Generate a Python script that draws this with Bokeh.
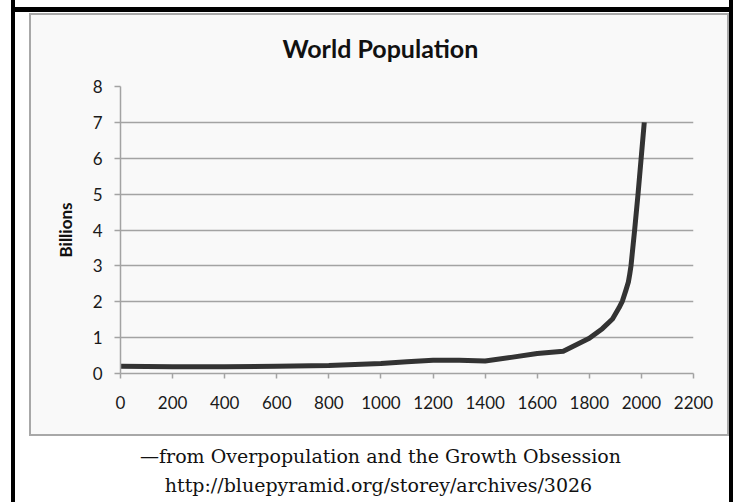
from bokeh.plotting import figure
from bokeh.models import Range1d, Label, FixedTicker
from bokeh.layouts import column
from bokeh.embed import file_html
from bokeh.resources import INLINE

# ---- data ----
years = [0, 200, 400, 600, 800, 1000, 1100, 1200, 1300, 1400, 1500, 1600,
         1700, 1750, 1800, 1850, 1889, 1914, 1927, 1940, 1950, 1955, 1960,
         1974, 1987, 1999, 2011]
billions = [0.2, 0.19, 0.19, 0.2, 0.22, 0.28, 0.33, 0.37, 0.37, 0.35, 0.45, 0.56,
            0.62, 0.8, 0.98, 1.25, 1.52, 1.83, 2.02, 2.31, 2.55, 2.76, 3.0,
            4.0, 5.0, 6.0, 7.0]
x_ticks = [0, 200, 400, 600, 800, 1000, 1200, 1400, 1600, 1800, 2000, 2200]
y_ticks = [0, 1, 2, 3, 4, 5, 6, 7, 8]
title_text = "World Population"
y_label = "Billions"
caption_1 = "\u2014from Overpopulation and the Growth Obsession"
caption_2 = "http://bluepyramid.org/storey/archives/3026"

CHART_BG = "#f9f9f9"
GRID = "#a3a3a3"
FONT = "Lato"

# ---- chart ----
p = figure(width=735, height=437, output_backend="svg", toolbar_location=None,
           x_range=Range1d(0, 2200), y_range=Range1d(0, 8),
           min_border_left=120, min_border_right=42,
           min_border_top=86, min_border_bottom=64,
           background_fill_color=CHART_BG, border_fill_color=None,
           title=title_text)
p.outline_line_color = None

p.title.align = "left"
p.title.offset = 162
p.title.standoff = 48
p.title.vertical_align = "bottom"
p.title.text_font = FONT
p.title.text_font_style = "bold"
p.title.text_font_size = "25px"
p.title.text_color = "#111111"

p.xgrid.visible = False
p.ygrid.ticker = FixedTicker(ticks=y_ticks)
p.ygrid.grid_line_color = GRID
p.ygrid.grid_line_width = 1.5

for ax in (p.xaxis, p.yaxis):
    ax.axis_line_color = GRID
    ax.axis_line_width = 1.5
    ax.major_tick_line_color = GRID
    ax.major_tick_line_width = 1.5
    ax.minor_tick_line_color = None
    ax.major_tick_in = 0
    ax.major_label_text_font = FONT
    ax.major_label_text_font_size = "17px"
    ax.major_label_text_color = "#1a1a1a"

p.xaxis.ticker = FixedTicker(ticks=x_ticks)
p.xaxis.major_tick_out = 5
p.xaxis.major_label_standoff = 17

p.yaxis.ticker = FixedTicker(ticks=y_ticks)
p.yaxis.major_tick_out = 6
p.yaxis.major_label_standoff = 12
p.yaxis.axis_label = y_label
p.yaxis.axis_label_text_font = FONT
p.yaxis.axis_label_text_font_style = "bold"
p.yaxis.axis_label_text_font_size = "17px"
p.yaxis.axis_label_text_color = "#111111"
p.yaxis.axis_label_standoff = 14

p.line(years, billions, line_width=5, line_color="#333333",
       line_join="round", line_cap="butt")

# ---- caption strip (its frame is aligned with the chart frame: x 120..693) ----
cap = figure(width=735, height=65, output_backend="svg", toolbar_location=None,
             x_range=Range1d(0, 735), y_range=Range1d(0, 65),
             x_axis_location=None, y_axis_location=None, min_border=0,
             background_fill_color=None, border_fill_color=None)
cap.outline_line_color = None
cap.grid.visible = False

cap.add_layout(Label(x=260, y=47, x_units="screen", y_units="screen",
                     text=caption_1, text_font="DejaVu Serif",
                     text_font_size="19px", text_color="#111111",
                     text_align="center", text_baseline="alphabetic"))
cap.add_layout(Label(x=258, y=18, x_units="screen", y_units="screen",
                     text=caption_2, text_font="DejaVu Serif",
                     text_font_size="19px", text_color="#111111",
                     text_align="center", text_baseline="alphabetic"))

# picture frame: black border, chart box (grey edge + light fill) on white
layers = ["linear-gradient(#000,#000)"] * 3 + [
    "linear-gradient(%s,%s)" % (CHART_BG, CHART_BG),
    "linear-gradient(#a8a8a8,#a8a8a8)"]
page = column(p, cap, spacing=0, styles={
    "background-color": "white",
    "background-image": ", ".join(layers),
    "background-position": "11px 0px, 11px 7px, 729px 0px, 31px 15px, 29px 13px",
    "background-size": "4px 502px, 722px 5px, 4px 502px, 696px 419px, 700px 423px",
    "background-repeat": "no-repeat",
})

open("out.html", "w").write(file_html(page, INLINE))
